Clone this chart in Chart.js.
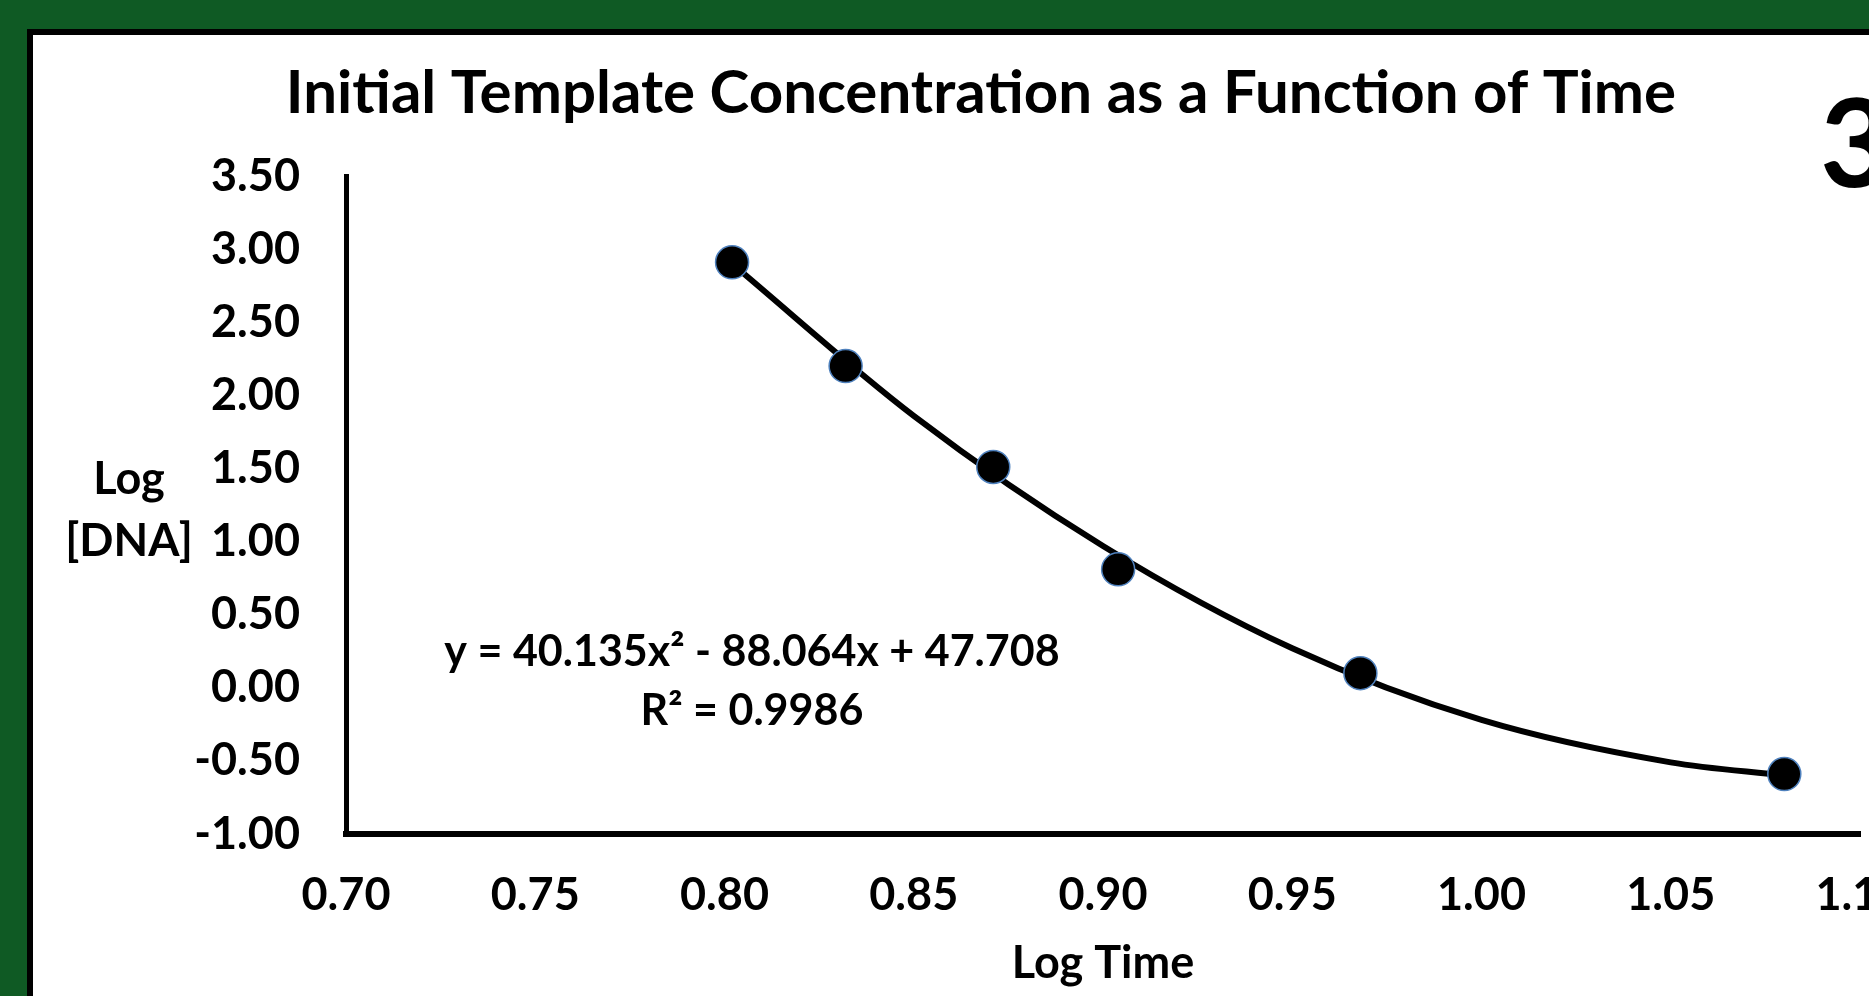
<!DOCTYPE html>
<html>
<head>
<meta charset="utf-8">
<script src="https://cdn.jsdelivr.net/npm/chart.js@4/dist/chart.umd.min.js"></script>
<style>
  html, body { margin:0; padding:0; width:1869px; height:996px; overflow:hidden; background:#0f5a24; }
  #panel { position:absolute; left:27px; top:29px; width:2000px; height:1100px; background:#fff;
           border-left:6px solid #000; border-top:6px solid #000; }
  #c { position:absolute; left:0; top:0; }
</style>
</head>
<body>
<div id="panel"></div>
<canvas id="c" width="1960" height="996"></canvas>
<script>
// ---- data ----
// measured points
const logTime = [0.802, 0.832, 0.871, 0.904, 0.968, 1.080];
const logDNA  = [2.91, 2.20, 1.51, 0.81, 0.10, -0.59];
// trendline position at several x positions
const trendX = [0.802, 0.85, 0.90, 0.95, 1.00, 1.05, 1.080];
const trendY = [2.90, 1.86, 0.97, 0.27, -0.22, -0.51, -0.60];
const xTickValues = [0.70, 0.75, 0.80, 0.85, 0.90, 0.95, 1.00, 1.05, 1.10];
const yTickValues = [-1.00, -0.50, 0.00, 0.50, 1.00, 1.50, 2.00, 2.50, 3.00, 3.50];
const titleText = 'Initial Template Concentration as a Function of Time';
const xTitleText = 'Log Time';
const yTitleLines = ['Log', '[DNA]'];
const equationLines = ['y = 40.135x² - 88.064x + 47.708', 'R² = 0.9986'];
const cornerLabel = '3';

const FONT = 'Lato';
const LABEL_SIZE = 45;
const EQ_SIZE = 43;
const TITLE_SIZE = 60;

const annotations = {
  id: 'annotations',
  afterDraw(chart) {
    const ctx = chart.ctx;
    ctx.save();
    ctx.fillStyle = '#000';
    ctx.textAlign = 'center';
    ctx.textBaseline = 'middle';
    ctx.font = `bold ${LABEL_SIZE}px ${FONT}`;
    yTitleLines.forEach((t, i) => ctx.fillText(t, 129, 479 + i * 62));
    ctx.font = `bold ${EQ_SIZE}px ${FONT}`;
    equationLines.forEach((t, i) => ctx.fillText(t, 752, 652 + i * 59));
    ctx.textAlign = 'left';
    ctx.textBaseline = 'alphabetic';
    ctx.font = `bold 122px ${FONT}`;
    ctx.fillText(cornerLabel, 1820, 187);
    ctx.restore();
  }
};

function build() {
  const tickFont = { family: FONT, weight: 'bold', size: LABEL_SIZE, lineHeight: 1.2 };
  new Chart(document.getElementById('c'), {
    type: 'scatter',
    data: {
      datasets: [{
        label: 'Log [DNA]',
        data: logTime.map((x, i) => ({ x, y: logDNA[i] })),
        showLine: false,
        pointRadius: 16.5,
        pointHoverRadius: 16.5,
        pointBackgroundColor: '#000',
        pointBorderColor: '#4f81bd',
        pointBorderWidth: 1.5
      }, {
        label: 'Poly. (Log [DNA])',
        data: trendX.map((x, i) => ({ x, y: trendY[i] })),
        showLine: true,
        borderColor: '#000',
        borderWidth: 6,
        cubicInterpolationMode: 'monotone',
        pointRadius: 0,
        pointHoverRadius: 0
      }]
    },
    options: {
      responsive: false,
      animation: false,
      events: [],
      layout: { padding: { left: 102, right: 100, top: 0, bottom: 0 } },
      plugins: {
        legend: { display: false },
        tooltip: { enabled: false },
        title: {
          display: true, text: titleText, color: '#000',
          font: { family: FONT, weight: 'bold', size: TITLE_SIZE, lineHeight: 1.2 },
          padding: { top: 58, bottom: 46 }
        }
      },
      scales: {
        x: {
          type: 'linear', min: 0.70, max: 1.10,
          grid: { display: false, drawTicks: false, tickLength: 0 },
          border: { display: true, color: '#000', width: 6 },
          ticks: { color: '#000', font: tickFont, padding: 34, autoSkip: false, maxRotation: 0,
                   callback: v => Number(v).toFixed(2) },
          afterBuildTicks: s => { s.ticks = xTickValues.map(v => ({ value: v })); },
          afterFit: s => { s.height = 162; },
          title: { display: true, text: xTitleText, color: '#000', font: tickFont,
                   padding: { top: 0, bottom: 6 } }
        },
        y: {
          type: 'linear', min: -1.0, max: 3.5,
          grid: { display: false, drawTicks: false, tickLength: 0 },
          border: { display: true, color: '#000', width: 5 },
          ticks: { color: '#000', font: tickFont, padding: 46, autoSkip: false,
                   callback: v => Number(v).toFixed(2) },
          afterBuildTicks: s => { s.ticks = yTickValues.map(v => ({ value: v })); },
          afterFit: s => { s.width = 244; }
        }
      }
    },
    plugins: [annotations]
  });
}

Promise.all([
  document.fonts.load(`bold ${LABEL_SIZE}px ${FONT}`),
  document.fonts.load(`bold ${TITLE_SIZE}px ${FONT}`)
]).then(build, build);
</script>
</body>
</html>
